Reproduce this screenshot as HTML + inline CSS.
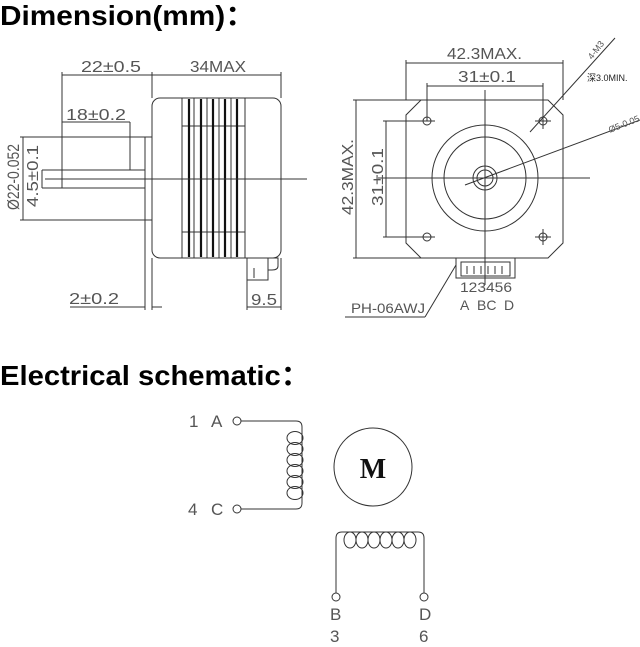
<!DOCTYPE html>
<html><head><meta charset="utf-8"><style>
html,body{margin:0;padding:0;background:#fff;width:640px;height:647px;overflow:hidden}
svg{display:block}
text{font-family:"Liberation Sans","Noto Sans CJK SC",sans-serif;fill:#555}
</style></head><body>
<svg width="640" height="647" viewBox="0 0 640 647" xmlns="http://www.w3.org/2000/svg">
<g stroke="#333" stroke-width="1" fill="none">
<line x1="62" y1="75" x2="281" y2="75"/>
<line x1="62" y1="72" x2="62" y2="170"/>
<line x1="152" y1="72" x2="152" y2="98"/>
<line x1="281" y1="72" x2="281" y2="98"/>
<rect x="152" y="98" width="129" height="160" rx="8"/>
<line x1="182" y1="98" x2="182" y2="258"/><line x1="245" y1="98" x2="245" y2="258"/>
<line x1="194" y1="98" x2="194" y2="258"/><line x1="207" y1="98" x2="207" y2="258"/>
<line x1="219" y1="98" x2="219" y2="258"/><line x1="231" y1="98" x2="231" y2="258"/>
<line x1="182" y1="126" x2="245" y2="126"/><line x1="182" y1="232" x2="245" y2="232"/>
<g stroke-width="2.2" stroke="#111">
<line x1="189" y1="99" x2="189" y2="257"/><line x1="201" y1="99" x2="201" y2="257"/>
<line x1="213" y1="99" x2="213" y2="257"/><line x1="225" y1="99" x2="225" y2="257"/>
<line x1="237" y1="99" x2="237" y2="257"/></g>
<rect x="145" y="137" width="7" height="83"/>
<rect x="62" y="170" width="83" height="18"/>
<line x1="130" y1="122" x2="130" y2="170"/>
<line x1="62" y1="122" x2="130" y2="122"/>
<line x1="45" y1="179" x2="307" y2="179"/>
<line x1="20" y1="137" x2="145" y2="137"/><line x1="20" y1="220" x2="145" y2="220"/>
<line x1="23" y1="137" x2="23" y2="220"/>
<line x1="42" y1="170" x2="62" y2="170"/><line x1="42" y1="188" x2="62" y2="188"/>
<line x1="42" y1="170" x2="42" y2="188"/>
<rect x="247" y="258" width="21" height="22"/>
<path d="M268 258 h10 v8 q0 4 -6 4 h-4"/>
<line x1="254" y1="268" x2="254" y2="278"/>
<line x1="145" y1="220" x2="145" y2="310"/><line x1="152" y1="258" x2="152" y2="310"/>
<line x1="70" y1="307" x2="145" y2="307"/><line x1="152" y1="307" x2="162" y2="307"/>
<line x1="247" y1="280" x2="247" y2="310"/><line x1="281" y1="258" x2="281" y2="310"/>
<line x1="247" y1="307" x2="281" y2="307"/>
<line x1="406" y1="63" x2="563" y2="63"/>
<line x1="406" y1="60" x2="406" y2="100"/><line x1="563" y1="60" x2="563" y2="100"/>
<line x1="427" y1="86" x2="543" y2="86"/>
<line x1="427" y1="83" x2="427" y2="121"/><line x1="543" y1="83" x2="543" y2="121"/>
<path d="M421 100 H548 L563 115 V243 L548 258 H421 L406 243 V115 Z"/>
<line x1="353" y1="100" x2="421" y2="100"/><line x1="353" y1="258" x2="421" y2="258"/>
<line x1="356" y1="100" x2="356" y2="258"/>
<line x1="383" y1="121" x2="427" y2="121"/><line x1="383" y1="237" x2="427" y2="237"/>
<line x1="386" y1="121" x2="386" y2="237"/>
<circle cx="427" cy="121" r="4"/><circle cx="543" cy="121" r="4"/>
<circle cx="427" cy="237" r="4"/><circle cx="543" cy="237" r="4"/>
<line x1="419" y1="121" x2="435" y2="121"/><line x1="535" y1="121" x2="551" y2="121"/>
<line x1="419" y1="237" x2="435" y2="237"/><line x1="535" y1="237" x2="551" y2="237"/>
<line x1="543" y1="113" x2="543" y2="129"/><line x1="543" y1="229" x2="543" y2="245"/>
<circle cx="485" cy="178" r="53"/><circle cx="485" cy="178" r="41"/>
<circle cx="485" cy="178" r="12"/><circle cx="485" cy="178" r="8"/>
<line x1="485" y1="90" x2="485" y2="285"/>
<line x1="378" y1="178" x2="590" y2="178"/>
<line x1="530" y1="132" x2="615" y2="38"/>
<line x1="465" y1="185" x2="640" y2="120"/>
<rect x="456" y="258" width="59" height="20"/>
<rect x="461" y="262" width="49" height="14"/>
<path d="M467 266v8M474 266v8M481 266v8M488 266v8M495 266v8M502 266v8"/>
<line x1="345" y1="317" x2="425" y2="317"/>
<line x1="425" y1="317" x2="456" y2="265"/>
<circle cx="237" cy="421" r="4"/><circle cx="237" cy="509" r="4"/>
<path d="M241 421 H296 q6 0 6 6 V503 q0 6 -6 6 H241"/>
<ellipse cx="295" cy="438" rx="8" ry="6.5"/><ellipse cx="295" cy="449" rx="8" ry="6.5"/>
<ellipse cx="295" cy="460" rx="8" ry="6.5"/><ellipse cx="295" cy="471" rx="8" ry="6.5"/>
<ellipse cx="295" cy="482" rx="8" ry="6.5"/><ellipse cx="295" cy="493" rx="8" ry="6.5"/>
<circle cx="373" cy="467" r="39"/>
<path d="M336 593 V538 q0 -6 6 -6 H418 q6 0 6 6 V593"/>
<ellipse cx="350" cy="540" rx="6" ry="8"/><ellipse cx="362" cy="540" rx="6" ry="8"/>
<ellipse cx="374" cy="540" rx="6" ry="8"/><ellipse cx="386" cy="540" rx="6" ry="8"/>
<ellipse cx="398" cy="540" rx="6" ry="8"/><ellipse cx="410" cy="540" rx="6" ry="8"/>
<circle cx="336" cy="597" r="4"/><circle cx="424" cy="597" r="4"/>
</g>
<text x="0" y="25" font-size="28" font-weight="bold" style="fill:#000" textLength="255" lengthAdjust="spacingAndGlyphs">Dimension(mm)：</text>
<text x="0" y="385" font-size="28" font-weight="bold" style="fill:#000" textLength="310" lengthAdjust="spacingAndGlyphs">Electrical schematic：</text>
<g font-size="16">
<text x="81" y="72" textLength="60" lengthAdjust="spacingAndGlyphs">22±0.5</text>
<text x="190" y="72" textLength="56" lengthAdjust="spacingAndGlyphs">34MAX</text>
<text x="66" y="120" textLength="60" lengthAdjust="spacingAndGlyphs">18±0.2</text>
<text x="69" y="304" textLength="50" lengthAdjust="spacingAndGlyphs">2±0.2</text>
<text x="251" y="305" textLength="26" lengthAdjust="spacingAndGlyphs">9.5</text>
<text x="447" y="59" textLength="75" lengthAdjust="spacingAndGlyphs">42.3MAX.</text>
<text x="458" y="82" textLength="58" lengthAdjust="spacingAndGlyphs">31±0.1</text>
<text transform="translate(353 215) rotate(-90)" textLength="76" lengthAdjust="spacingAndGlyphs">42.3MAX.</text>
<text transform="translate(383 206) rotate(-90)" textLength="58" lengthAdjust="spacingAndGlyphs">31±0.1</text>
<text transform="translate(38 207) rotate(-90)" textLength="62" lengthAdjust="spacingAndGlyphs">4.5±0.1</text>
<text transform="translate(19 210) rotate(-90)" font-size="17" textLength="66" lengthAdjust="spacingAndGlyphs">Ø22-0.052</text>
</g>
<g font-size="14">
<text x="460" y="292" textLength="52" lengthAdjust="spacingAndGlyphs">123456</text>
<text x="460" y="310">A</text><text x="477" y="310">BC</text><text x="504" y="310">D</text>
<text x="351" y="313" textLength="74" lengthAdjust="spacingAndGlyphs">PH-06AWJ</text>
</g>
<g font-size="17">
<text x="189" y="427">1</text><text x="211" y="427">A</text>
<text x="188" y="515">4</text><text x="211" y="515">C</text>
<text x="330" y="620">B</text>
<text x="419" y="620">D</text>
<text x="330" y="642">3</text>
<text x="419" y="642">6</text>
</g>
<text x="587" y="81" font-size="9" style="fill:#222">深3.0MIN.</text>
<text transform="translate(592 60) rotate(-52)" font-size="9">4-M3</text>
<text transform="translate(610 133) rotate(-22)" font-size="9">Ø5-0.05</text>
<text x="373" y="478" font-size="28" font-weight="bold" text-anchor="middle" style="fill:#111;font-family:'Liberation Serif',serif">M</text>
</svg>
</body></html>
